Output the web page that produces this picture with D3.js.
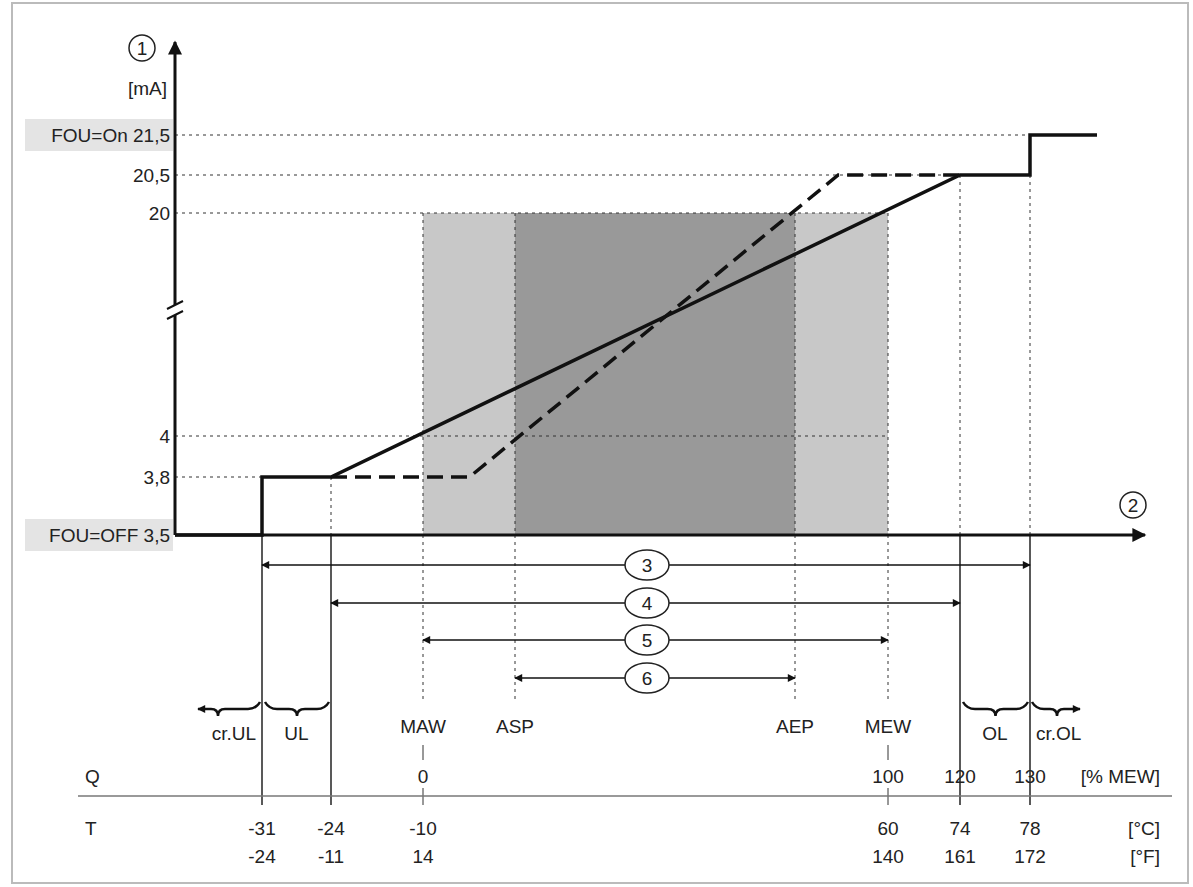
<!DOCTYPE html><html><head><meta charset="utf-8"><script src="https://cdn.jsdelivr.net/npm/d3@7"></script>
<style>body{margin:0;background:#fff}text{font-family:Arial,"Liberation Sans",sans-serif;fill:#222}</style></head><body>
<svg id="c" width="1193" height="887"></svg>
<script>
const yTicks=[3.5,3.8,4,20,20.5,21.5];
const yTickLabels=["FOU=OFF 3,5","3,8","4","20","20,5","FOU=On 21,5"];
const tPoints=[-31,-24,-10,60,74,78];
const qLabels=["","","0","100","120","130"];
const fLabels=["-24","-11","14","140","161","172"];
const ASP=3.85, AEP=46;
const solid=[[-45,3.5],[-31,3.5],[-31,3.8],[-24,3.8],[74,20.5],[78,20.5],[78,21.5],[85,21.5]];
const dashed=[[-24,3.8],[-3,3.8],[52.5,20.5],[74,20.5]];
const ranges=[["3",-31,78],["4",-24,74],["5",-10,60],["6",ASP,AEP]];
const marks=[["MAW",-10],["ASP",ASP],["AEP",AEP],["MEW",60]];

const svg=d3.select("#c");
const x=d3.scaleLinear().domain([-45,-31,-24,-10,60,74,78,85]).range([175,262,331,423,888,960,1030,1097]);
const y=d3.scaleLinear().domain(yTicks).range([535,477,436,213,175,135]);
svg.append("rect").attr("x",12).attr("y",3).attr("width",1176).attr("height",880).attr("fill","none").attr("stroke","#bbb").attr("stroke-width",2);
svg.append("defs").append("marker").attr("id","ar").attr("viewBox","0 0 10 10").attr("refX",9).attr("refY",5).attr("markerWidth",10).attr("markerHeight",8).attr("orient","auto-start-reverse").attr("markerUnits","userSpaceOnUse")
 .append("path").attr("d","M0,0L10,5L0,10z").attr("fill","#111");
svg.append("marker").attr("id","big").attr("viewBox","0 0 10 10").attr("refX",9).attr("refY",5).attr("markerWidth",28).attr("markerHeight",14).attr("orient","auto").attr("markerUnits","userSpaceOnUse")
 .append("path").attr("d","M0,0L10,5L0,10z").attr("fill","#111");
// shading
svg.append("rect").attr("x",x(-10)).attr("y",y(20)).attr("width",x(60)-x(-10)).attr("height",y(3.5)-y(20)).attr("fill","#c8c8c8");
svg.append("rect").attr("x",x(ASP)).attr("y",y(20)).attr("width",x(AEP)-x(ASP)).attr("height",y(3.5)-y(20)).attr("fill","#999");
// highlight boxes
[[3.5],[21.5]].forEach(([v])=>svg.append("rect").attr("x",25).attr("y",y(v)-16).attr("width",148).attr("height",32).attr("fill","#e4e4e4"));
// dotted horizontals
const hEnd={21.5:78,20.5:74,20:60,4:60,3.8:-24};
[21.5,20.5,20,4,3.8].forEach(v=>svg.append("line").attr("x1",175).attr("x2",x(hEnd[v])).attr("y1",y(v)).attr("y2",y(v)).attr("stroke","#333").attr("stroke-dasharray","3,4"));
// verticals
marks.forEach(([n,t])=>svg.append("line").attr("x1",x(t)).attr("x2",x(t)).attr("y1",y(20)).attr("y2",700).attr("stroke","#333").attr("stroke-dasharray","3,4"));
[[-31,y(3.8)],[-24,y(3.8)],[74,y(20.5)],[78,y(20.5)]].forEach(([t,y0])=>svg.append("line").attr("x1",x(t)).attr("x2",x(t)).attr("y1",y0).attr("y2",y(3.5)).attr("stroke","#333").attr("stroke-dasharray","3,4"));
[-31,-24,74,78].forEach(t=>svg.append("line").attr("x1",x(t)).attr("x2",x(t)).attr("y1",y(3.5)).attr("y2",805).attr("stroke","#222").attr("stroke-width",1.5));
[-10,60].forEach(t=>{svg.append("line").attr("x1",x(t)).attr("x2",x(t)).attr("y1",745).attr("y2",760).attr("stroke","#333");svg.append("line").attr("x1",x(t)).attr("x2",x(t)).attr("y1",788).attr("y2",805).attr("stroke","#333");});
// curves
const line=d3.line().x(d=>x(d[0])).y(d=>y(d[1]));
svg.append("path").attr("d",line(dashed)).attr("fill","none").attr("stroke","#111").attr("stroke-width",3.5).attr("stroke-dasharray","16,8");
svg.append("path").attr("d",line(solid)).attr("fill","none").attr("stroke","#111").attr("stroke-width",3.5);
// axes
svg.append("line").attr("x1",175).attr("x2",175).attr("y1",535).attr("y2",42).attr("stroke","#111").attr("stroke-width",3).attr("marker-end","url(#big)");
svg.append("line").attr("x1",175).attr("x2",1145).attr("y1",535).attr("y2",535).attr("stroke","#111").attr("stroke-width",3).attr("marker-end","url(#big)");
svg.append("rect").attr("x",165).attr("y",305).attr("width",20).attr("height",10).attr("fill","#fff");
[305,315].forEach(yy=>svg.append("line").attr("x1",167).attr("x2",183).attr("y1",yy+4).attr("y2",yy-4).attr("stroke","#111").attr("stroke-width",2));
// y labels
yTicks.forEach((v,i)=>svg.append("text").attr("x",170).attr("y",y(v)+7).attr("text-anchor","end").attr("font-size",19).text(yTickLabels[i]));
svg.append("text").attr("x",167).attr("y",95).attr("text-anchor","end").attr("font-size",19).text("[mA]");
function circ(cx,cy,t){svg.append("circle").attr("cx",cx).attr("cy",cy).attr("r",13).attr("fill","#fff").attr("stroke","#222").attr("stroke-width",1.5);
 svg.append("text").attr("x",cx).attr("y",cy+7).attr("text-anchor","middle").attr("font-size",19).text(t);}
circ(142,48,"1");circ(1133,505,"2");
// ranges
const ry=[565,603,640,678];
ranges.forEach(([n,a,b],i)=>{svg.append("line").attr("x1",x(a)).attr("x2",x(b)).attr("y1",ry[i]).attr("y2",ry[i]).attr("stroke","#111").attr("stroke-width",1.5).attr("marker-start","url(#ar)").attr("marker-end","url(#ar)");
 svg.append("ellipse").attr("cx",647).attr("cy",ry[i]).attr("rx",22).attr("ry",15).attr("fill","#fff").attr("stroke","#222").attr("stroke-width",1.5);
 svg.append("text").attr("x",647).attr("y",ry[i]+7).attr("text-anchor","middle").attr("font-size",19).text(n);});
// mark labels
marks.forEach(([n,t])=>svg.append("text").attr("x",x(t)).attr("y",733).attr("text-anchor","middle").attr("font-size",19).text(n));
// braces
function brace(x1,x2){const m=(x1+x2)/2;return `M${x1},702 Q${x1+4},709 ${x1+12},709 L${m-8},709 Q${m},709 ${m},716 Q${m},709 ${m+8},709 L${x2-12},709 Q${x2-4},709 ${x2},702`;}
const bp=[[x(-24),x(-31)+2],[x(74),x(78)]];
svg.append("path").attr("d",brace(x(-31)+3,x(-24)-2)).attr("fill","none").attr("stroke","#111").attr("stroke-width",2.5);
svg.append("path").attr("d",brace(x(74)+3,x(78)-2)).attr("fill","none").attr("stroke","#111").attr("stroke-width",2.5);
svg.append("path").attr("d",`M${x(-31)-2},702 Q${x(-31)-6},709 ${x(-31)-14},709 L225,709 Q218,709 218,716 Q218,709 211,709 L198,709`).attr("fill","none").attr("stroke","#111").attr("stroke-width",2.5).attr("marker-end","url(#ar)");
svg.append("path").attr("d",`M${x(78)+2},702 Q${x(78)+6},709 ${x(78)+14},709 L1050,709 Q1057,709 1057,716 Q1057,709 1064,709 L1080,709`).attr("fill","none").attr("stroke","#111").attr("stroke-width",2.5).attr("marker-end","url(#ar)");
[["cr.UL",x(-31)-6,"end"],["UL",(x(-31)+x(-24))/2,"middle"],["OL",(x(74)+x(78))/2,"middle"],["cr.OL",x(78)+6,"start"]].forEach(([t,xx,a])=>svg.append("text").attr("x",xx).attr("y",740).attr("text-anchor",a).attr("font-size",19).text(t));
// bottom table
svg.append("line").attr("x1",78).attr("x2",1172).attr("y1",796).attr("y2",796).attr("stroke","#777").attr("stroke-width",1.5);
svg.append("text").attr("x",85).attr("y",783).attr("font-size",19).text("Q");
svg.append("text").attr("x",85).attr("y",835).attr("font-size",19).text("T");
tPoints.forEach((t,i)=>{
 if(qLabels[i])svg.append("text").attr("x",x(t)).attr("y",783).attr("text-anchor","middle").attr("font-size",19).text(qLabels[i]);
 svg.append("text").attr("x",x(t)).attr("y",835).attr("text-anchor","middle").attr("font-size",19).text(t);
 svg.append("text").attr("x",x(t)).attr("y",863).attr("text-anchor","middle").attr("font-size",19).text(fLabels[i]);});
svg.append("text").attr("x",1160).attr("y",783).attr("text-anchor","end").attr("font-size",19).text("[% MEW]");
svg.append("text").attr("x",1160).attr("y",835).attr("text-anchor","end").attr("font-size",19).text("[°C]");
svg.append("text").attr("x",1160).attr("y",863).attr("text-anchor","end").attr("font-size",19).text("[°F]");
</script></body></html>
